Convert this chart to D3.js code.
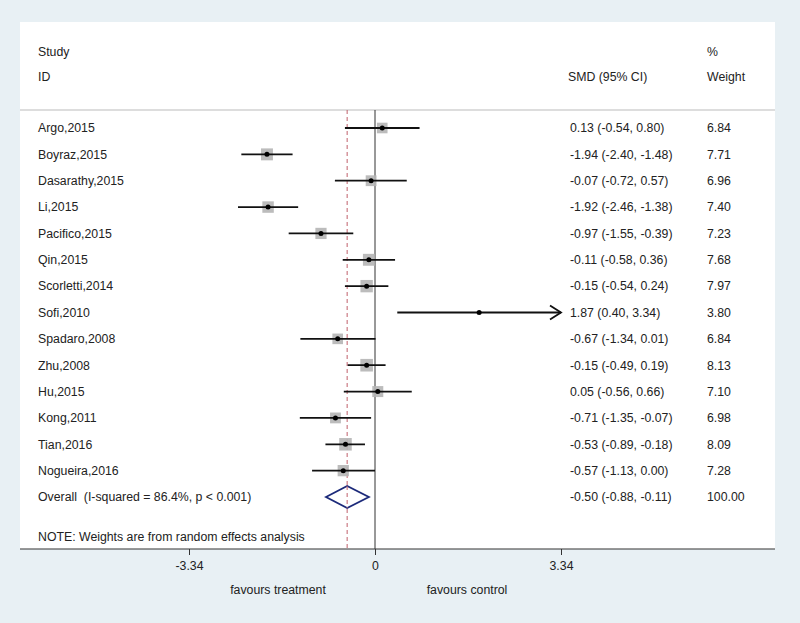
<!DOCTYPE html>
<html><head><meta charset="utf-8">
<script src="https://cdn.jsdelivr.net/npm/d3@7"></script>
<style>body{margin:0;background:#e8f0f4;} svg{display:block;font-family:"Liberation Sans",Arial,sans-serif;} text{white-space:pre;}</style>
</head><body>
<svg id="c" width="800" height="623"></svg>
<script>
const studies = ["Argo,2015","Boyraz,2015","Dasarathy,2015","Li,2015","Pacifico,2015","Qin,2015","Scorletti,2014","Sofi,2010","Spadaro,2008","Zhu,2008","Hu,2015","Kong,2011","Tian,2016","Nogueira,2016"];
const smd   = [0.13,-1.94,-0.07,-1.92,-0.97,-0.11,-0.15,1.87,-0.67,-0.15,0.05,-0.71,-0.53,-0.57];
const lower = [-0.54,-2.40,-0.72,-2.46,-1.55,-0.58,-0.54,0.40,-1.34,-0.49,-0.56,-1.35,-0.89,-1.13];
const upper = [0.80,-1.48,0.57,-1.38,-0.39,0.36,0.24,3.34,0.01,0.19,0.66,-0.07,-0.18,0.00];
const weights = [6.84,7.71,6.96,7.40,7.23,7.68,7.97,3.80,6.84,8.13,7.10,6.98,8.09,7.28];
const overall = {label:"Overall  (I-squared = 86.4%, p < 0.001)", est:-0.50, lo:-0.88, hi:-0.11, weight:"100.00"};
const axisTicks = [-3.34, 0, 3.34];
const note = "NOTE: Weights are from random effects analysis";

const f2 = d3.format(".2f");
const fmt = v => f2(v).replace("\u2212","-");
const svg = d3.select("#c");
const x = d3.scaleLinear().domain([-3.34, 3.34]).range([189, 561]);
const rowY = d3.scaleLinear().domain([0, 14]).range([128, 497]);
const axisY = 549, topY = 110;
const txt = "#222";
const fs = 12.3;

// panel
svg.append("rect").attr("x",20).attr("y",22).attr("width",755).attr("height",axisY-22).attr("fill","#fff");
svg.append("line").attr("x1",20).attr("x2",775).attr("y1",topY).attr("y2",topY).attr("stroke","#bbb").attr("stroke-width",1.2);

// headers
const hdr = (t,xx,yy)=>svg.append("text").attr("x",xx).attr("y",yy).attr("font-size",fs).attr("fill",txt).text(t);
hdr("Study",38,56); hdr("ID",38,81); hdr("SMD (95% CI)",568,81); hdr("%",707,56); hdr("Weight",707,81);

// reference lines
svg.append("line").attr("x1",x(0)).attr("x2",x(0)).attr("y1",topY).attr("y2",axisY).attr("stroke","#333").attr("stroke-width",1);
svg.append("line").attr("x1",x(overall.est)).attr("x2",x(overall.est)).attr("y1",topY).attr("y2",axisY)
  .attr("stroke","#c0606a").attr("stroke-width",1).attr("stroke-dasharray","4,3");

// study rows
const maxW = d3.max(weights);
const boxSide = d3.scaleLinear().domain([0, maxW]).range([0, 12.6]);
studies.forEach((s,i)=>{
  const y = rowY(i);
  const bs = boxSide(weights[i]);
  svg.append("rect").attr("x",x(smd[i])-bs/2).attr("y",y-bs/2).attr("width",bs).attr("height",bs).attr("fill","#b5b5b5").attr("opacity",i===7?0.0:0.9);
  const arrow = upper[i] >= 3.34;
  svg.append("line").attr("x1",x(lower[i])).attr("x2",x(Math.min(upper[i],3.34))).attr("y1",y).attr("y2",y).attr("stroke","#111").attr("stroke-width",1.8);
  if (arrow) {
    const xe = x(3.34);
    svg.append("path").attr("d",`M${xe-11},${y-7}L${xe},${y}L${xe-11},${y+7}`).attr("fill","none").attr("stroke","#111").attr("stroke-width",1.8);
  }
  svg.append("circle").attr("cx",x(smd[i])).attr("cy",y).attr("r",2.5).attr("fill","#000");
  svg.append("text").attr("x",38).attr("y",y).attr("dy","0.35em").attr("font-size",fs).attr("fill",txt).text(s);
  svg.append("text").attr("x",570).attr("y",y).attr("dy","0.35em").attr("font-size",fs).attr("fill",txt)
    .text(`${fmt(smd[i])} (${fmt(lower[i])}, ${fmt(upper[i])})`);
  svg.append("text").attr("x",707).attr("y",y).attr("dy","0.35em").attr("font-size",fs).attr("fill",txt).text(fmt(weights[i]));
});

// overall
const oy = rowY(14);
svg.append("path").attr("d",`M${x(overall.lo)},${oy}L${x(overall.est)},${oy-11}L${x(overall.hi)},${oy}L${x(overall.est)},${oy+11}Z`)
  .attr("fill","#fff").attr("stroke","#1c2a7a").attr("stroke-width",1.8);
svg.append("line").attr("x1",x(overall.est)).attr("x2",x(overall.est)).attr("y1",oy-11).attr("y2",oy+11)
  .attr("stroke","#c0606a").attr("stroke-width",1).attr("stroke-dasharray","4,3");
svg.append("text").attr("x",38).attr("y",oy).attr("dy","0.35em").attr("font-size",fs).attr("fill",txt).attr("xml:space","preserve").text(overall.label);
svg.append("text").attr("x",570).attr("y",oy).attr("dy","0.35em").attr("font-size",fs).attr("fill",txt)
  .text(`${fmt(overall.est)} (${fmt(overall.lo)}, ${fmt(overall.hi)})`);
svg.append("text").attr("x",707).attr("y",oy).attr("dy","0.35em").attr("font-size",fs).attr("fill",txt).text(overall.weight);

svg.append("text").attr("x",38).attr("y",537).attr("dy","0.35em").attr("font-size",fs).attr("fill",txt).text(note);

// axis
svg.append("line").attr("x1",20).attr("x2",775).attr("y1",axisY).attr("y2",axisY).attr("stroke","#333").attr("stroke-width",1.2);
const ax = d3.axisBottom(x).tickValues(axisTicks).tickSize(6).tickPadding(6).tickFormat(d=>d===0?"0":fmt(d));
const g = svg.append("g").attr("transform",`translate(0,${axisY})`).call(ax);
g.select(".domain").remove();
g.selectAll(".tick line").attr("stroke","#333");
g.selectAll(".tick text").attr("font-size",fs).attr("fill",txt).attr("font-family","Liberation Sans, Arial, sans-serif");
svg.append("text").attr("x",278).attr("y",590).attr("dy","0.35em").attr("text-anchor","middle").attr("font-size",fs).attr("fill",txt).text("favours treatment");
svg.append("text").attr("x",467).attr("y",590).attr("dy","0.35em").attr("text-anchor","middle").attr("font-size",fs).attr("fill",txt).text("favours control");
</script>
</body></html>
